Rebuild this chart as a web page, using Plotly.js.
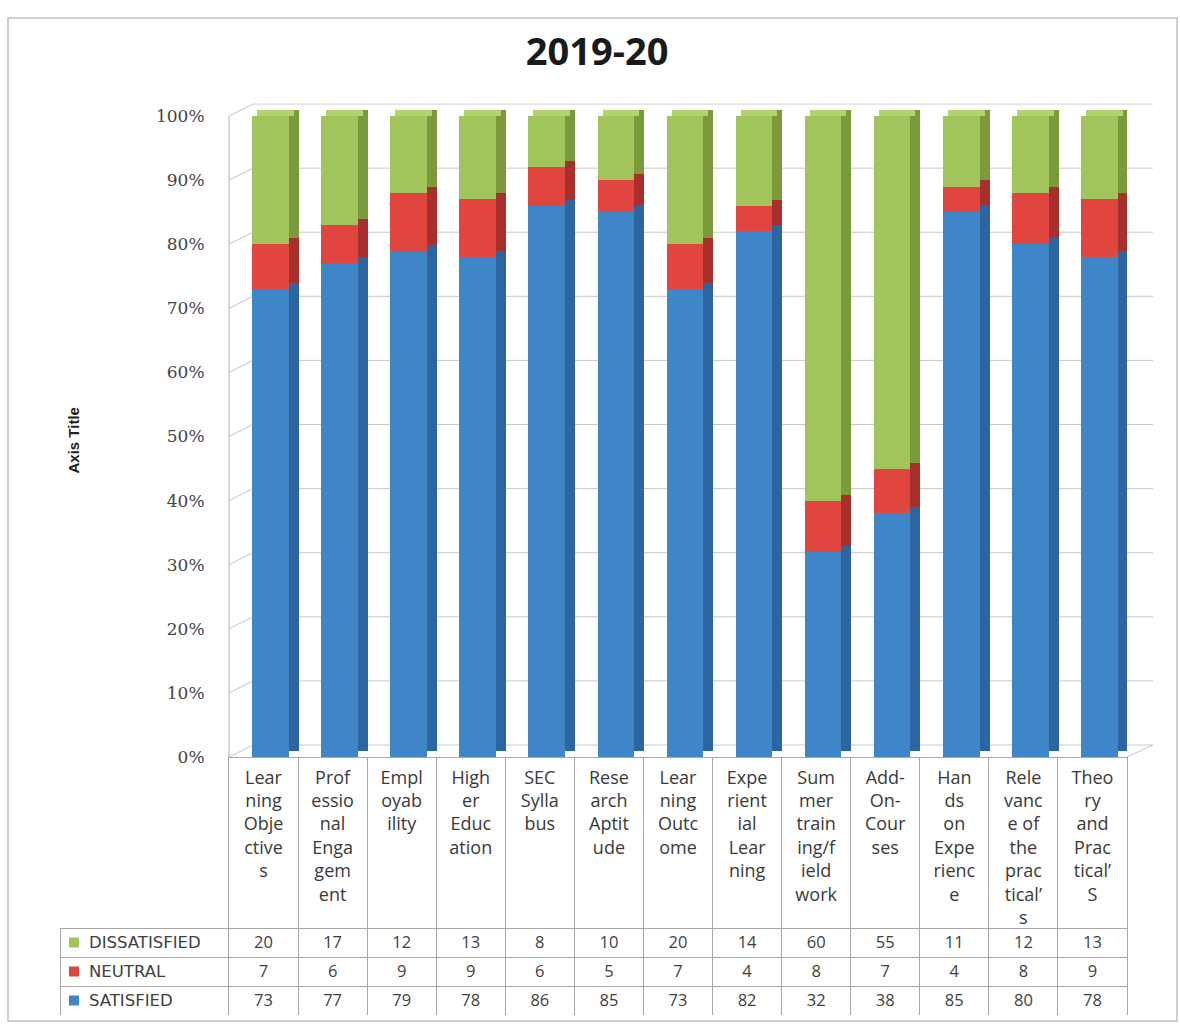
<!DOCTYPE html>
<html>
<head>
<meta charset="utf-8">
<script src="https://cdn.plot.ly/plotly-3.0.1.min.js"></script>
<style>html,body{margin:0;padding:0;background:#fff;}#chart{width:1180px;height:1024px;}</style>
</head>
<body>
<div id="chart"></div>
<script>
// ---- data ----
const categories = ['Learning Objectives','Professional Engagement','Employability','Higher Education','SEC Syllabus','Research Aptitude','Learning Outcome','Experiential Learning','Summer training/field work','Add-On-Courses','Hands on Experience','Relevance of the practical\u2019s','Theory and Practical\u2019S'];
const tickLabels = ['Lear<br>ning<br>Obje<br>ctive<br>s','Prof<br>essio<br>nal<br>Enga<br>gem<br>ent','Empl<br>oyab<br>ility','High<br>er<br>Educ<br>ation','SEC<br>Sylla<br>bus','Rese<br>arch<br>Aptit<br>ude','Lear<br>ning<br>Outc<br>ome','Expe<br>rient<br>ial<br>Lear<br>ning','Sum<br>mer<br>train<br>ing/f<br>ield<br>work','Add-<br>On-<br>Cour<br>ses','Han<br>ds<br>on<br>Expe<br>rienc<br>e','Rele<br>vanc<br>e of<br>the<br>prac<br>tical\u2019<br>s','Theo<br>ry<br>and<br>Prac<br>tical\u2019<br>S'];
const satisfied    = [73,77,79,78,86,85,73,82,32,38,85,80,78];
const neutral      = [7,6,9,9,6,5,7,4,8,7,4,8,9];
const dissatisfied = [20,17,12,13,8,10,20,14,60,55,11,12,13];
const seriesNames  = ['DISSATISFIED','NEUTRAL','SATISFIED'];
const yTickVals    = [0,10,20,30,40,50,60,70,80,90,100];

// ---- styling ----
const W = 1180, H = 1024;
const px = x => x / W, py = y => 1 - y / H;
const colFront = {sat:'#3f86c9', neu:'#e0453f', dis:'#a1c45b'};
const colSide  = {sat:'#2c65a0', neu:'#a8302c', dis:'#7a9a3d'};
const colTop   = '#b3d270';
const frontOffset = -0.165, barWidth = 0.53;
const sideShiftX = 10/69.08, depthY = 0.94;    // bar depth
const wallDX = 24, wallDY = 1.87;              // wall depth
const textFont = 'Open Sans';

const cumNeu = satisfied.map(s=>s);
const cumDis = satisfied.map((s,i)=>s+neutral[i]);
const totals = satisfied.map((s,i)=>s+neutral[i]+dissatisfied[i]);

function bar(y, base, color, offset, extra){
  return Object.assign({type:'bar', x:categories, y:y, base:base, width:barWidth, offset:offset,
    marker:{color:color, line:{width:0}}, hoverinfo:'skip', showlegend:false}, extra||{});
}
const zeros = satisfied.map(()=>0);
const traces = [
  // side faces (behind)
  bar(satisfied, zeros.map(z=>z+depthY), colSide.sat, frontOffset+sideShiftX),
  bar(neutral, cumNeu.map(v=>v+depthY), colSide.neu, frontOffset+sideShiftX),
  bar(dissatisfied, cumDis.map(v=>v+depthY), colSide.dis, frontOffset+sideShiftX),
  // top face
  bar(totals.map(()=>depthY), totals, colTop, frontOffset+sideShiftX/2),
  // front faces
  bar(satisfied, zeros, colFront.sat, frontOffset, {name:'SATISFIED', hoverinfo:'y+name'}),
  bar(neutral, cumNeu, colFront.neu, frontOffset, {name:'NEUTRAL', hoverinfo:'y+name'}),
  bar(dissatisfied, cumDis, colFront.dis, frontOffset, {name:'DISSATISFIED', hoverinfo:'y+name'})
];

// data table (header row holds the category tick labels drawn by the x axis;
// the legend column's labels are drawn as annotations)
const swatchColors = [colFront.dis, colFront.neu, colFront.sat];
const cellValues = [seriesNames.map(()=> '')].concat(categories.map((c,i)=>[dissatisfied[i], neutral[i], satisfied[i]]));
traces.push({
  type:'table',
  domain:{x:[px(60), px(1127)], y:[py(1015), py(757)]},
  columnwidth:[169].concat(categories.map(()=>69.08)),
  header:{
    values:[''].concat(categories.map(()=>'')),
    height:171,
    line:{color:'#a8a8a8', width:[0].concat(categories.map(()=>1))},
    fill:{color:'rgba(0,0,0,0)'}
  },
  cells:{
    values:cellValues,
    height:29,
    align:'center',
    font:{family:textFont, size:16.5, color:'#3f3f3f'},
    line:{color:'#a8a8a8', width:1},
    fill:{color:'#ffffff'}
  }
});

// wall / grid shapes
const shapes = [];
yTickVals.forEach(v=>{
  shapes.push({type:'line', layer:'below', xref:'paper', yref:'y', x0:px(229+wallDX), x1:px(1153), y0:v+wallDY, y1:v+wallDY, line:{color:'#c8c8c8', width:1}});
  shapes.push({type:'line', layer:'below', xref:'paper', yref:'y', x0:px(229), x1:px(229+wallDX), y0:v, y1:v+wallDY, line:{color:'#c4c4c4', width:1}});
});
shapes.push({type:'line', layer:'below', xref:'paper', yref:'y', x0:px(229), x1:px(229), y0:0, y1:100, line:{color:'#b5b5b5', width:1}});
shapes.push({type:'line', layer:'below', xref:'paper', yref:'y', x0:px(1127), x1:px(1153), y0:0, y1:wallDY, line:{color:'#c4c4c4', width:1}});
// outer chart frame
shapes.push({type:'rect', xref:'paper', yref:'paper', x0:px(8), x1:px(1177), y0:py(1021), y1:py(18), line:{color:'#c0c0c0', width:1.5}});

const annotations = [{text:'<b>Axis Title</b>', xref:'paper', yref:'paper', x:px(62), y:py(441),
                textangle:-90, showarrow:false, font:{family:'Liberation Sans Narrow, Liberation Sans', size:15, color:'#222'}}];
// legend keys + series names in the table's first column
swatchColors.forEach((c,i)=>{
  const yc = 942.5 + 29*i;
  shapes.push({type:'rect', xref:'paper', yref:'paper', x0:px(69), x1:px(79), y0:py(yc+5), y1:py(yc-5),
    line:{width:0}, fillcolor:c, layer:'above'});
  annotations.push({text:seriesNames[i], xref:'paper', yref:'paper', x:px(87), y:py(yc), xanchor:'left', yanchor:'middle',
    showarrow:false, font:{family:'DejaVu Sans', size:16.5, color:'#3f3f3f'}});
});

const layout = {
  width:W, height:H,
  margin:{l:0, r:0, t:0, b:0},
  paper_bgcolor:'#ffffff', plot_bgcolor:'rgba(0,0,0,0)',
  barmode:'overlay', bargap:0,
  showlegend:false,
  title:{text:'2019-20', x:0.506, xanchor:'center', y:py(52), yanchor:'middle',
         font:{family:'Open Sans', size:38, weight:700, color:'#1a1a1a'}},
  xaxis:{domain:[px(229), px(1127)], type:'category', range:[-0.5, categories.length-0.5],
         tickvals:categories, ticktext:tickLabels, ticks:'outside', ticklen:4, tickcolor:'rgba(0,0,0,0)',
         tickfont:{family:textFont, size:18, color:'#3a3a3a'}, tickangle:0,
         showgrid:false, zeroline:false, showline:false, fixedrange:true},
  yaxis:{domain:[py(757), py(757-102*6.41)], range:[0,102], tickvals:yTickVals,
         ticktext:yTickVals.map(v=>v+'%'), showgrid:false, zeroline:false, showline:false,
         ticks:'outside', ticklen:20, tickcolor:'rgba(0,0,0,0)',
         tickfont:{family:'DejaVu Serif', size:17, color:'#444'}, fixedrange:true},
  annotations:annotations,
  shapes:shapes
};
Plotly.newPlot('chart', traces, layout, {displayModeBar:false, staticPlot:true});
</script>
</body>
</html>
